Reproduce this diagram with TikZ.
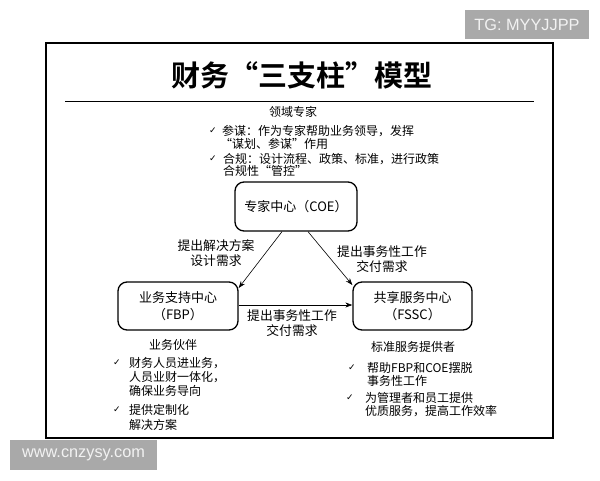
\documentclass[tikz,border=0pt]{standalone}
\usepackage{fontspec}
\newfontfamily\cjk{Noto Sans CJK SC}
\newfontfamily\cjkb{Noto Sans CJK SC Bold}
\newfontfamily\dv{DejaVu Sans}
\setsansfont{Liberation Sans}
\usetikzlibrary{arrows.meta}
\definecolor{wmgray}{HTML}{A9A9A9}
\definecolor{wmtext}{HTML}{F2F2F2}
\begin{document}
\begin{tikzpicture}[x=1pt,y=-1pt,
  txt/.style={inner sep=0pt,font=\cjk\fontsize{12}{14}\selectfont},
  lt/.style={txt,anchor=west},
  lbl/.style={inner sep=0pt,align=center,font=\cjk\fontsize{12.8}{15}\selectfont},
  ck/.style={inner sep=0pt,anchor=west,font=\dv\fontsize{9}{10}\selectfont},
  ctr/.style={rounded corners=9pt,draw,line width=1.3pt,minimum height=48pt,align=center,font=\cjk\fontsize{13}{17}\selectfont,inner sep=0pt},
  arr/.style={-{Stealth[length=7pt,width=5pt]},line width=0.6pt},
  wm/.style={fill=wmgray,text=wmtext,inner sep=0pt,font=\sffamily\fontsize{16.3}{18}\selectfont}
]
\useasboundingbox (0,0) rectangle (600,480);
\fill[white] (0,0) rectangle (600,480);
% watermarks
\node[wm,minimum width=124pt,minimum height=29pt] (tg) at (527,24.5) {TG: MYYJJPP};
\node[wm,minimum width=147pt,minimum height=30pt] (www) at (83.5,455) {www.cnzysy.com};
% frame
\draw[line width=1.8pt] (46,43) rectangle (553,438);
\node[inner sep=0pt,font=\cjkb\fontsize{29}{31}\selectfont] (title) at (302,75) {财务“三支柱”模型};
\draw[line width=1pt] (65,101) -- (534,101);
% top texts
\node[txt] (domain) at (293,112) {领域专家};
\node[ck] (c1) at (209,131) {✓};
\node[lt] (t1) at (222,131) {参谋：作为专家帮助业务领导，发挥};
\node[lt] (t1b) at (220,144) {“谋划、参谋”作用};
\node[ck] (c2) at (209,159) {✓};
\node[lt] (t2) at (223,159) {合规：设计流程、政策、标准，进行政策};
\node[lt] (t2b) at (223,171) {合规性“管控”};
% centers
\node[ctr,minimum width=122pt,minimum height=49pt] (coe) at (296,206.5) {专家中心（COE）};
\node[ctr,minimum width=120pt] (fbp) at (178,306) {业务支持中心\\（FBP）};
\node[ctr,minimum width=119pt] (fssc) at (412.5,306) {共享服务中心\\（FSSC）};
% arrows
\draw[arr] (coe.south -| 282,0) -- (fbp.east |- 0,288);
\draw[arr] (coe.south -| 308,0) -- (fssc.west |- 0,285);
\draw[arr] (fbp.east |- 0,305) -- (fssc.west |- 0,305);
% arrow labels
\node[lbl] (l1) at (216,253.5) {提出解决方案\\设计需求};
\node[lbl] (l2) at (382,259) {提出事务性工作\\交付需求};
\node[lbl] (l3) at (292,323) {提出事务性工作\\交付需求};
% FBP text
\node[txt] (bp) at (173,345) {业务伙伴};
\node[ck] (c3) at (113,363) {✓};
\node[lt] (t3) at (129,363) {财务人员进业务，};
\node[lt] (t3b) at (129,377) {人员业财一体化，};
\node[lt] (t3c) at (129,391) {确保业务导向};
\node[ck] (c4) at (113,410) {✓};
\node[lt] (t4) at (129,410) {提供定制化};
\node[lt] (t4b) at (129,425) {解决方案};
% FSSC text
\node[txt] (sp) at (413,347) {标准服务提供者};
\node[ck] (c5) at (348,368) {✓};
\node[lt] (t5) at (367,368) {帮助FBP和COE摆脱};
\node[lt] (t5b) at (367,381) {事务性工作};
\node[ck] (c6) at (346,398) {✓};
\node[lt] (t6) at (365,398) {为管理者和员工提供};
\node[lt] (t6b) at (365,411) {优质服务，提高工作效率};
\end{tikzpicture}
\end{document}
